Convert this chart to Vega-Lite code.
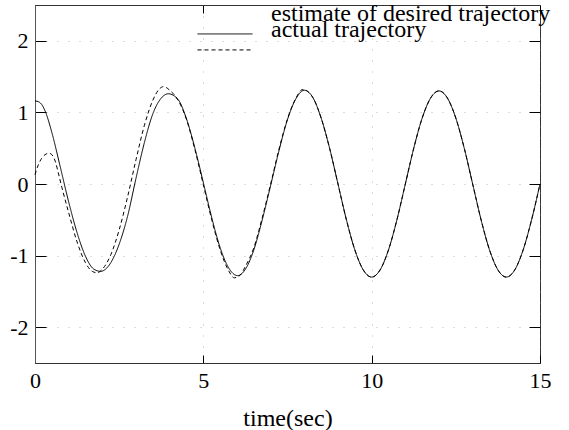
{
  "$schema": "https://vega.github.io/schema/vega-lite/v6.json",
  "width": 505,
  "height": 358,
  "autosize": "none",
  "padding": {"left": 35, "top": 5, "right": 29, "bottom": 67},
  "background": "white",
  "config": {
    "font": "Liberation Serif",
    "view": {"stroke": "#333", "strokeWidth": 1},
    "legend": {
      "orient": "none", "title": null,
      "symbolType": "M-1,0.47H1", "symbolSize": 3025,
      "symbolStrokeColor": "black", "symbolStrokeWidth": 1,
      "labelFont": "Liberation Serif", "labelFontSize": 24, "labelColor": "black",
      "labelBaseline": "alphabetic", "labelOffset": 18, "labelLimit": 0, "padding": 0
    }
  },
  "datasets": {
    "traj": [
      {"t": 0, "v": 1.16, "s": "estimate of desired trajectory"},
      {"t": 0.1, "v": 1.15, "s": "estimate of desired trajectory"},
      {"t": 0.2, "v": 1.11, "s": "estimate of desired trajectory"},
      {"t": 0.3, "v": 1.02, "s": "estimate of desired trajectory"},
      {"t": 0.5, "v": 0.72, "s": "estimate of desired trajectory"},
      {"t": 0.75, "v": 0.24, "s": "estimate of desired trajectory"},
      {"t": 1.0, "v": -0.25, "s": "estimate of desired trajectory"},
      {"t": 1.25, "v": -0.68, "s": "estimate of desired trajectory"},
      {"t": 1.5, "v": -1.01, "s": "estimate of desired trajectory"},
      {"t": 1.75, "v": -1.19, "s": "estimate of desired trajectory"},
      {"t": 1.95, "v": -1.22, "s": "estimate of desired trajectory"},
      {"t": 2.25, "v": -1.10, "s": "estimate of desired trajectory"},
      {"t": 2.5, "v": -0.84, "s": "estimate of desired trajectory"},
      {"t": 2.75, "v": -0.45, "s": "estimate of desired trajectory"},
      {"t": 3.0, "v": 0.08, "s": "estimate of desired trajectory"},
      {"t": 3.25, "v": 0.58, "s": "estimate of desired trajectory"},
      {"t": 3.5, "v": 0.98, "s": "estimate of desired trajectory"},
      {"t": 3.75, "v": 1.20, "s": "estimate of desired trajectory"},
      {"t": 3.96, "v": 1.26, "s": "estimate of desired trajectory"},
      {"t": 4.25, "v": 1.18, "s": "estimate of desired trajectory"},
      {"t": 4.5, "v": 0.91, "s": "estimate of desired trajectory"},
      {"t": 4.75, "v": 0.50, "s": "estimate of desired trajectory"},
      {"t": 5.0, "v": 0.02, "s": "estimate of desired trajectory"},
      {"t": 5.25, "v": -0.47, "s": "estimate of desired trajectory"},
      {"t": 5.5, "v": -0.89, "s": "estimate of desired trajectory"},
      {"t": 5.75, "v": -1.17, "s": "estimate of desired trajectory"},
      {"t": 6.02, "v": -1.28, "s": "estimate of desired trajectory"},
      {"t": 6.25, "v": -1.19, "s": "estimate of desired trajectory"},
      {"t": 6.5, "v": -0.92, "s": "estimate of desired trajectory"},
      {"t": 6.75, "v": -0.50, "s": "estimate of desired trajectory"},
      {"t": 7.0, "v": -0.02, "s": "estimate of desired trajectory"},
      {"t": 7.25, "v": 0.47, "s": "estimate of desired trajectory"},
      {"t": 7.5, "v": 0.90, "s": "estimate of desired trajectory"},
      {"t": 7.75, "v": 1.19, "s": "estimate of desired trajectory"},
      {"t": 8.0, "v": 1.31, "s": "estimate of desired trajectory"},
      {"t": 8.25, "v": 1.21, "s": "estimate of desired trajectory"},
      {"t": 8.5, "v": 0.92, "s": "estimate of desired trajectory"},
      {"t": 8.75, "v": 0.50, "s": "estimate of desired trajectory"},
      {"t": 9.0, "v": 0, "s": "estimate of desired trajectory"},
      {"t": 9.25, "v": -0.50, "s": "estimate of desired trajectory"},
      {"t": 9.5, "v": -0.92, "s": "estimate of desired trajectory"},
      {"t": 9.75, "v": -1.20, "s": "estimate of desired trajectory"},
      {"t": 10.0, "v": -1.30, "s": "estimate of desired trajectory"},
      {"t": 10.25, "v": -1.20, "s": "estimate of desired trajectory"},
      {"t": 10.5, "v": -0.92, "s": "estimate of desired trajectory"},
      {"t": 10.75, "v": -0.50, "s": "estimate of desired trajectory"},
      {"t": 11.0, "v": 0, "s": "estimate of desired trajectory"},
      {"t": 11.25, "v": 0.50, "s": "estimate of desired trajectory"},
      {"t": 11.5, "v": 0.92, "s": "estimate of desired trajectory"},
      {"t": 11.75, "v": 1.20, "s": "estimate of desired trajectory"},
      {"t": 12.0, "v": 1.30, "s": "estimate of desired trajectory"},
      {"t": 12.25, "v": 1.20, "s": "estimate of desired trajectory"},
      {"t": 12.5, "v": 0.92, "s": "estimate of desired trajectory"},
      {"t": 12.75, "v": 0.50, "s": "estimate of desired trajectory"},
      {"t": 13.0, "v": 0, "s": "estimate of desired trajectory"},
      {"t": 13.25, "v": -0.50, "s": "estimate of desired trajectory"},
      {"t": 13.5, "v": -0.92, "s": "estimate of desired trajectory"},
      {"t": 13.75, "v": -1.20, "s": "estimate of desired trajectory"},
      {"t": 14.0, "v": -1.30, "s": "estimate of desired trajectory"},
      {"t": 14.25, "v": -1.20, "s": "estimate of desired trajectory"},
      {"t": 14.5, "v": -0.92, "s": "estimate of desired trajectory"},
      {"t": 14.75, "v": -0.50, "s": "estimate of desired trajectory"},
      {"t": 15.0, "v": 0, "s": "estimate of desired trajectory"},

      {"t": 0, "v": 0.13, "s": "actual trajectory"},
      {"t": 0.1, "v": 0.27, "s": "actual trajectory"},
      {"t": 0.2, "v": 0.36, "s": "actual trajectory"},
      {"t": 0.3, "v": 0.41, "s": "actual trajectory"},
      {"t": 0.42, "v": 0.43, "s": "actual trajectory"},
      {"t": 0.5, "v": 0.41, "s": "actual trajectory"},
      {"t": 0.6, "v": 0.32, "s": "actual trajectory"},
      {"t": 0.7, "v": 0.14, "s": "actual trajectory"},
      {"t": 0.8, "v": -0.05, "s": "actual trajectory"},
      {"t": 1.0, "v": -0.40, "s": "actual trajectory"},
      {"t": 1.25, "v": -0.81, "s": "actual trajectory"},
      {"t": 1.5, "v": -1.10, "s": "actual trajectory"},
      {"t": 1.7, "v": -1.22, "s": "actual trajectory"},
      {"t": 1.85, "v": -1.24, "s": "actual trajectory"},
      {"t": 2.0, "v": -1.19, "s": "actual trajectory"},
      {"t": 2.25, "v": -0.99, "s": "actual trajectory"},
      {"t": 2.5, "v": -0.64, "s": "actual trajectory"},
      {"t": 2.75, "v": -0.18, "s": "actual trajectory"},
      {"t": 3.0, "v": 0.34, "s": "actual trajectory"},
      {"t": 3.25, "v": 0.82, "s": "actual trajectory"},
      {"t": 3.5, "v": 1.17, "s": "actual trajectory"},
      {"t": 3.7, "v": 1.33, "s": "actual trajectory"},
      {"t": 3.82, "v": 1.36, "s": "actual trajectory"},
      {"t": 4.0, "v": 1.31, "s": "actual trajectory"},
      {"t": 4.25, "v": 1.17, "s": "actual trajectory"},
      {"t": 4.5, "v": 0.90, "s": "actual trajectory"},
      {"t": 4.75, "v": 0.48, "s": "actual trajectory"},
      {"t": 5.0, "v": -0.01, "s": "actual trajectory"},
      {"t": 5.25, "v": -0.50, "s": "actual trajectory"},
      {"t": 5.5, "v": -0.92, "s": "actual trajectory"},
      {"t": 5.75, "v": -1.21, "s": "actual trajectory"},
      {"t": 5.92, "v": -1.31, "s": "actual trajectory"},
      {"t": 6.1, "v": -1.27, "s": "actual trajectory"},
      {"t": 6.25, "v": -1.15, "s": "actual trajectory"},
      {"t": 6.5, "v": -0.89, "s": "actual trajectory"},
      {"t": 6.75, "v": -0.47, "s": "actual trajectory"},
      {"t": 7.0, "v": 0.0, "s": "actual trajectory"},
      {"t": 7.25, "v": 0.49, "s": "actual trajectory"},
      {"t": 7.5, "v": 0.91, "s": "actual trajectory"},
      {"t": 7.75, "v": 1.20, "s": "actual trajectory"},
      {"t": 7.95, "v": 1.32, "s": "actual trajectory"},
      {"t": 8.25, "v": 1.21, "s": "actual trajectory"},
      {"t": 8.5, "v": 0.92, "s": "actual trajectory"},
      {"t": 8.75, "v": 0.50, "s": "actual trajectory"},
      {"t": 9.0, "v": 0, "s": "actual trajectory"},
      {"t": 9.25, "v": -0.50, "s": "actual trajectory"},
      {"t": 9.5, "v": -0.92, "s": "actual trajectory"},
      {"t": 9.75, "v": -1.20, "s": "actual trajectory"},
      {"t": 10.0, "v": -1.30, "s": "actual trajectory"},
      {"t": 10.25, "v": -1.20, "s": "actual trajectory"},
      {"t": 10.5, "v": -0.92, "s": "actual trajectory"},
      {"t": 10.75, "v": -0.50, "s": "actual trajectory"},
      {"t": 11.0, "v": 0, "s": "actual trajectory"},
      {"t": 11.25, "v": 0.50, "s": "actual trajectory"},
      {"t": 11.5, "v": 0.92, "s": "actual trajectory"},
      {"t": 11.75, "v": 1.20, "s": "actual trajectory"},
      {"t": 12.0, "v": 1.30, "s": "actual trajectory"},
      {"t": 12.25, "v": 1.20, "s": "actual trajectory"},
      {"t": 12.5, "v": 0.92, "s": "actual trajectory"},
      {"t": 12.75, "v": 0.50, "s": "actual trajectory"},
      {"t": 13.0, "v": 0, "s": "actual trajectory"},
      {"t": 13.25, "v": -0.50, "s": "actual trajectory"},
      {"t": 13.5, "v": -0.92, "s": "actual trajectory"},
      {"t": 13.75, "v": -1.20, "s": "actual trajectory"},
      {"t": 14.0, "v": -1.30, "s": "actual trajectory"},
      {"t": 14.25, "v": -1.20, "s": "actual trajectory"},
      {"t": 14.5, "v": -0.92, "s": "actual trajectory"},
      {"t": 14.75, "v": -0.50, "s": "actual trajectory"},
      {"t": 15.0, "v": 0, "s": "actual trajectory"}
    ]
  },
  "data": {"name": "traj"},
  "layer": [
    {
      "transform": [{"filter": "datum.s === 'estimate of desired trajectory'"}],
      "mark": {"type": "line", "color": "black", "strokeWidth": 1, "interpolate": "monotone"},
      "encoding": {
        "x": {
          "field": "t", "type": "quantitative",
          "scale": {"domain": [0, 15], "nice": false, "zero": false},
          "axis": {
            "values": [0, 5, 10, 15], "title": "time(sec)",
            "tickSize": -8, "tickColor": "black", "labelPadding": 15,
            "labelFont": "Liberation Serif", "labelFontSize": 22, "labelColor": "black",
            "labelFlush": false, "labelOverlap": false,
            "domainColor": "#333",
            "grid": true, "gridColor": "#888", "gridDash": [1, 10], "gridOpacity": 0.6,
            "titleFont": "Liberation Serif", "titleFontSize": 24, "titleFontWeight": "normal",
            "titleColor": "black", "titlePadding": 15
          }
        },
        "y": {
          "field": "v", "type": "quantitative",
          "scale": {"domain": [-2.5, 2.5], "nice": false, "zero": false},
          "axis": {
            "values": [-2, -1, 0, 1, 2], "title": null, "labelExpr": "datum.value",
            "tickSize": -11, "tickColor": "black", "labelPadding": 18,
            "labelFont": "Liberation Serif", "labelFontSize": 22, "labelColor": "black",
            "labelOverlap": false, "labelFlush": false,
            "domainColor": "#555",
            "grid": true, "gridColor": "#888", "gridDash": [1, 10], "gridOpacity": 0.6
          }
        },
        "strokeDash": {
          "field": "s", "type": "nominal",
          "scale": {"domain": ["estimate of desired trajectory"], "range": [[1, 0]]},
          "legend": {"legendX": 162, "legendY": -12}
        }
      }
    },
    {
      "transform": [{"filter": "datum.s === 'actual trajectory'"}],
      "mark": {"type": "line", "color": "black", "strokeWidth": 1, "interpolate": "monotone"},
      "encoding": {
        "x": {"field": "t", "type": "quantitative", "scale": {"domain": [0, 15], "nice": false, "zero": false}, "axis": null},
        "y": {"field": "v", "type": "quantitative", "scale": {"domain": [-2.5, 2.5], "nice": false, "zero": false}, "axis": null},
        "strokeDash": {
          "field": "s", "type": "nominal",
          "scale": {"domain": ["actual trajectory"], "range": [[4, 3]]},
          "legend": {"legendX": 162, "legendY": 4}
        }
      }
    },
    {
      "mark": {"type": "point", "opacity": 0},
      "encoding": {
        "x": {
          "field": "t", "type": "quantitative",
          "scale": {"domain": [0, 15], "nice": false, "zero": false},
          "axis": {"orient": "top", "values": [0, 5, 10, 15], "labels": false, "title": null,
                   "tickSize": -8, "tickColor": "black", "domain": false, "grid": false}
        },
        "y": {
          "field": "v", "type": "quantitative",
          "scale": {"domain": [-2.5, 2.5], "nice": false, "zero": false},
          "axis": {"orient": "right", "values": [-2, -1, 0, 1, 2], "labels": false, "title": null,
                   "tickSize": -11, "tickColor": "black", "domain": false, "grid": false}
        }
      }
    }
  ],
  "resolve": {
    "axis": {"x": "independent", "y": "independent"},
    "scale": {"strokeDash": "independent"},
    "legend": {"strokeDash": "independent"}
  }
}
